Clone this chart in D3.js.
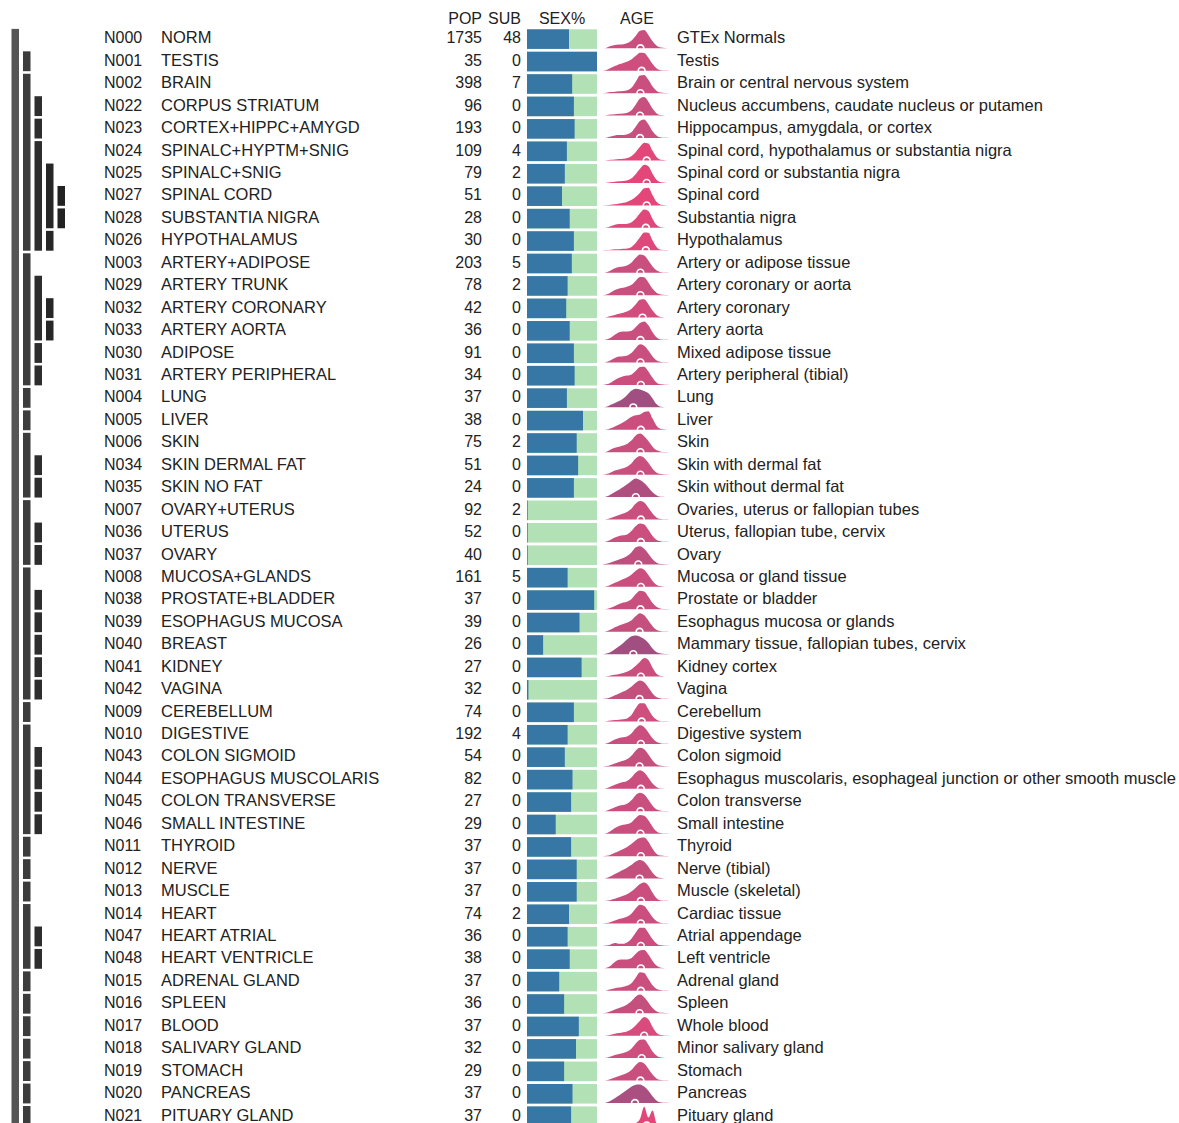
<!DOCTYPE html>
<html>
<head>
<meta charset="utf-8">
<script src="https://cdn.jsdelivr.net/npm/d3@7"></script>
<style>
  html, body { margin: 0; padding: 0; background: #fff; }
  svg { display: block; font-family: "Liberation Sans", Arial, Helvetica, sans-serif; }
</style>
</head>
<body>
<svg id="chart" width="1179" height="1123"></svg>
<script>
// ---- GTEx normal tissue groups ----
const ids = ["N000","N001","N002","N022","N023","N024","N025","N027","N028","N026",
  "N003","N029","N032","N033","N030","N031","N004","N005","N006","N034","N035",
  "N007","N036","N037","N008","N038","N039","N040","N041","N042","N009","N010",
  "N043","N044","N045","N046","N011","N012","N013","N014","N047","N048",
  "N015","N016","N017","N018","N019","N020","N021"];

const names = ["NORM","TESTIS","BRAIN","CORPUS STRIATUM","CORTEX+HIPPC+AMYGD","SPINALC+HYPTM+SNIG",
  "SPINALC+SNIG","SPINAL CORD","SUBSTANTIA NIGRA","HYPOTHALAMUS","ARTERY+ADIPOSE","ARTERY TRUNK",
  "ARTERY CORONARY","ARTERY AORTA","ADIPOSE","ARTERY PERIPHERAL","LUNG","LIVER","SKIN",
  "SKIN DERMAL FAT","SKIN NO FAT","OVARY+UTERUS","UTERUS","OVARY","MUCOSA+GLANDS",
  "PROSTATE+BLADDER","ESOPHAGUS MUCOSA","BREAST","KIDNEY","VAGINA","CEREBELLUM","DIGESTIVE",
  "COLON SIGMOID","ESOPHAGUS MUSCOLARIS","COLON TRANSVERSE","SMALL INTESTINE","THYROID","NERVE",
  "MUSCLE","HEART","HEART ATRIAL","HEART VENTRICLE","ADRENAL GLAND","SPLEEN","BLOOD",
  "SALIVARY GLAND","STOMACH","PANCREAS","PITUARY GLAND"];

// depth of each group in the tissue hierarchy (0 = root)
const depth = [0,1,1,2,2,2,3,4,4,3, 1,2,3,3,2,2, 1,1,1,2,2, 1,2,2, 1,2,2,2,2,2, 1,1,2,2,2,2,
  1,1,1,1,2,2, 1,1,1,1,1,1,1];

const pop = [1735,35,398,96,193,109,79,51,28,30,203,78,42,36,91,34,37,38,75,51,24,92,52,40,
  161,37,39,26,27,32,74,192,54,82,27,29,37,37,37,74,36,38,37,36,37,32,29,37,37];

const sub = [48,0,7,0,0,4,2,0,0,0,5,2,0,0,0,0,0,0,2,0,0,2,0,0,5,0,0,0,0,0,0,4,0,0,0,0,
  0,0,0,2,0,0,0,0,0,0,0,0,0];

// share of male donors (0..1)
const malePct = [0.60,1.00,0.645,0.67,0.68,0.57,0.54,0.50,0.61,0.67,0.64,0.58,0.56,0.61,0.67,0.68,
  0.57,0.80,0.71,0.73,0.67,0.01,0.01,0.01,0.58,0.96,0.75,0.23,0.78,0.02,0.67,0.58,0.54,0.65,
  0.63,0.41,0.63,0.71,0.71,0.60,0.58,0.61,0.46,0.53,0.74,0.70,0.53,0.65,0.63];

const descriptions = ["GTEx Normals","Testis","Brain or central nervous system",
  "Nucleus accumbens, caudate nucleus or putamen","Hippocampus, amygdala, or cortex",
  "Spinal cord, hypothalamus or substantia nigra","Spinal cord or substantia nigra","Spinal cord",
  "Substantia nigra","Hypothalamus","Artery or adipose tissue","Artery coronary or aorta",
  "Artery coronary","Artery aorta","Mixed adipose tissue","Artery peripheral (tibial)","Lung","Liver",
  "Skin","Skin with dermal fat","Skin without dermal fat","Ovaries, uterus or fallopian tubes",
  "Uterus, fallopian tube, cervix","Ovary","Mucosa or gland tissue","Prostate or bladder",
  "Esophagus mucosa or glands","Mammary tissue, fallopian tubes, cervix","Kidney cortex","Vagina",
  "Cerebellum","Digestive system","Colon sigmoid",
  "Esophagus muscolaris, esophageal junction or other smooth muscle","Colon transverse",
  "Small intestine","Thyroid","Nerve (tibial)","Muscle (skeletal)","Cardiac tissue",
  "Atrial appendage","Left ventricle","Adrenal gland","Spleen","Whole blood","Minor salivary gland",
  "Stomach","Pancreas","Pituary gland"];

// median donor age per group
const ageMedian = [55.5,57,55.5,55,55,63,63,63,62,62,55.5,55.5,58,55.5,55.5,56,47,56,55.5,55.5,50,
  56,56,53,56,55.5,54.5,47,56,54.5,57,56,54.5,56,55.5,55.5,56,54.5,56,56,56,56,56,54.5,60,57,
  55.5,49,63];

// age axis of the density profiles
const ageGrid = [10,15,20,25,30,35,40,45,50,55,60,65,70,75,80,85,90];

// relative donor density at each ageGrid age (peak = 100)
const ageDensity = [
  [0,3,12,18,20,22,28,42,68,95,98,72,38,14,4,1,0],
  [0,4,15,25,35,42,50,62,80,97,96,70,36,12,3,1,0],
  [0,2,6,8,10,12,16,30,62,95,98,72,36,12,3,1,0],
  [0,2,6,8,10,12,16,30,60,92,100,75,38,12,3,1,0],
  [0,2,8,14,16,16,20,32,62,92,100,74,36,12,3,1,0],
  [0,1,4,6,8,10,14,24,46,74,96,92,52,18,4,1,0],
  [0,1,4,7,9,11,15,25,48,76,98,90,50,16,4,1,0],
  [0,1,3,6,10,14,20,30,46,68,92,95,55,18,4,1,0],
  [0,2,8,16,20,20,22,30,50,78,98,90,48,15,3,1,0],
  [0,1,3,5,6,8,10,18,40,70,96,94,52,16,3,1,0],
  [0,3,12,24,30,34,40,55,80,98,92,66,34,12,3,1,0],
  [0,3,14,28,36,40,46,56,78,98,96,68,34,12,3,1,0],
  [0,2,8,14,20,26,34,48,72,96,98,72,38,13,3,1,0],
  [0,3,12,28,42,46,46,50,70,92,100,80,42,14,3,1,0],
  [0,3,12,24,32,34,38,52,78,98,90,64,32,10,3,1,0],
  [0,3,12,26,38,46,50,56,76,96,98,72,38,12,3,1,0],
  [0,3,14,24,34,48,68,90,100,96,88,76,48,16,3,1,0],
  [0,2,8,18,28,40,55,70,78,82,96,100,60,20,4,1,0],
  [0,3,14,24,30,36,46,64,90,100,86,60,30,10,3,1,0],
  [0,3,12,22,28,34,44,62,88,100,90,64,32,10,3,1,0],
  [0,3,14,28,40,54,70,88,100,92,76,52,26,9,2,1,0],
  [0,2,8,16,24,32,42,60,86,100,92,64,32,10,3,1,0],
  [0,3,12,24,32,36,42,60,86,100,94,66,32,10,3,1,0],
  [0,3,10,18,26,34,46,66,92,98,84,58,28,9,2,1,0],
  [0,3,12,22,32,42,52,66,86,100,92,64,32,10,3,1,0],
  [0,2,8,18,28,36,42,56,82,100,96,68,34,12,3,1,0],
  [0,3,12,24,34,42,50,62,84,100,88,60,30,10,3,1,0],
  [0,3,12,26,42,60,80,96,100,94,82,60,30,10,3,1,0],
  [0,2,6,10,14,20,28,40,58,80,100,90,48,14,3,1,0],
  [0,3,10,20,30,40,52,68,88,100,90,62,30,10,3,1,0],
  [0,2,6,8,10,12,18,36,72,98,98,66,30,10,2,1,0],
  [0,3,12,24,32,36,42,58,84,100,90,62,30,10,3,1,0],
  [0,2,8,16,24,30,40,58,86,100,92,64,32,10,3,1,0],
  [0,3,12,22,30,36,44,62,88,100,88,60,28,9,2,1,0],
  [0,3,12,22,30,34,42,60,88,100,90,62,30,10,3,1,0],
  [0,3,14,30,42,48,52,62,84,100,96,72,38,12,3,1,0],
  [0,2,8,18,28,38,50,66,86,98,100,78,40,12,3,1,0],
  [0,3,12,24,36,48,60,74,92,100,90,64,32,10,3,1,0],
  [0,2,6,12,20,28,38,52,72,92,100,84,44,14,3,1,0],
  [0,2,8,16,24,30,38,54,82,100,94,66,34,12,3,1,0],
  [0,2,8,16,12,12,20,40,72,98,98,70,36,12,3,1,0],
  [0,3,14,34,46,48,48,56,78,96,98,74,40,14,3,1,0],
  [0,2,8,14,18,22,28,42,72,100,96,64,30,10,3,1,0],
  [0,2,10,20,28,36,48,66,90,100,86,58,28,9,2,1,0],
  [0,1,5,10,14,18,24,36,56,80,100,88,46,14,3,1,0],
  [0,2,8,16,22,28,36,52,78,98,100,72,36,12,3,1,0],
  [0,2,8,16,24,32,42,58,84,100,92,64,32,10,3,1,0],
  [0,3,12,26,40,56,72,88,98,100,88,66,36,12,3,1,0],
  [0,0,0,0,0,0,0,2,12,34,100,42,80,10,0,0,0]
];

const headers = ["POP","SUB","SEX%","AGE"];

// ---- layout ----
const svg = d3.select("#chart");
const rowH = 22.44, top0 = 28.5;
const rows = d3.range(ids.length);
const yTop = d3.scaleLinear().domain([0, 1]).range([top0, top0 + rowH]);

const ink = "#222";
const fontSize = 16;
const wordSize = 16.5;

// hierarchy bars: each group spans its own row and the rows of its descendants
const spans = rows.map(i => {
  let j = i + 1;
  while (j < depth.length && depth[j] > depth[i]) j++;
  return { i, d: depth[i], start: i, end: j };
});
const depthX = d3.scaleLinear().domain([0, 1]).range([11.5, 23]);
const depthColor = d3.scaleOrdinal().domain([0,1,2,3,4]).range(["#555555","#3c3c3c","#2e2e2e","#272727","#222222"]);

svg.append("g").selectAll("rect").data(spans).join("rect")
  .attr("x", s => depthX(s.d))
  .attr("width", 7.5)
  .attr("y", s => yTop(s.start) + 0.4)
  .attr("height", s => yTop(s.end) - yTop(s.start) - 2.6)
  .attr("fill", s => depthColor(s.d));

// header
const headerG = svg.append("g").attr("font-size", fontSize).attr("fill", ink);
const headerPos = [[482, "end"], [521, "end"], [562, "middle"], [637, "middle"]];
headerG.selectAll("text").data(headers).join("text")
  .attr("x", (d, k) => headerPos[k][0])
  .attr("y", 24)
  .attr("text-anchor", (d, k) => headerPos[k][1])
  .text(d => d);

// row texts
const baseline = i => yTop(i) + 14.9;
const textG = svg.append("g").attr("fill", ink);
const addCol = (arr, x, anchor, size) => textG.append("g").attr("font-size", size)
  .selectAll("text").data(arr).join("text")
  .attr("x", x).attr("y", (d, i) => baseline(i)).attr("text-anchor", anchor).text(d => d);
addCol(ids, 104, "start", fontSize);
addCol(names, 161, "start", wordSize);
addCol(pop, 482, "end", fontSize);
addCol(sub, 521, "end", fontSize);
addCol(descriptions, 677, "start", wordSize);

// sex split bars
const sexX = d3.scaleLinear().domain([0, 1]).range([527, 597]);
const sexG = svg.append("g");
sexG.selectAll("rect.f").data(rows).join("rect").attr("class", "f")
  .attr("x", sexX(0)).attr("width", sexX(1) - sexX(0))
  .attr("y", i => yTop(i) + 0.8).attr("height", 19.6)
  .attr("fill", "#b2e1b5");
sexG.selectAll("rect.m").data(rows).join("rect").attr("class", "m")
  .attr("x", sexX(0)).attr("width", i => sexX(malePct[i]) - sexX(0))
  .attr("y", i => yTop(i) + 0.8).attr("height", 19.6)
  .attr("fill", "#3777a6");

// age density ridges
const ageX = d3.scaleLinear().domain([55, 95]).range([640, 673.5]);
const ageColor = d3.scaleLinear().domain([47, 55.5, 63]).range(["#a04f80", "#c9507e", "#e3477a"]).clamp(true);
const ageG = svg.append("g");
rows.forEach(i => {
  const base = yTop(i) + 19.8;
  const yv = d3.scaleLinear().domain([0, 100]).range([base, yTop(i) + 1.2]);
  const area = d3.area()
    .x((v, k) => ageX(ageGrid[k]))
    .y0(base)
    .y1(v => yv(v))
    .curve(d3.curveMonotoneX);
  const g = ageG.append("g");
  g.append("path").attr("d", area(ageDensity[i])).attr("fill", ageColor(ageMedian[i]));
  g.append("circle")
    .attr("cx", ageX(ageMedian[i])).attr("cy", base).attr("r", 3.4)
    .attr("fill", "none").attr("stroke", "#fff").attr("stroke-width", 1.6);
});
</script>
</body>
</html>
